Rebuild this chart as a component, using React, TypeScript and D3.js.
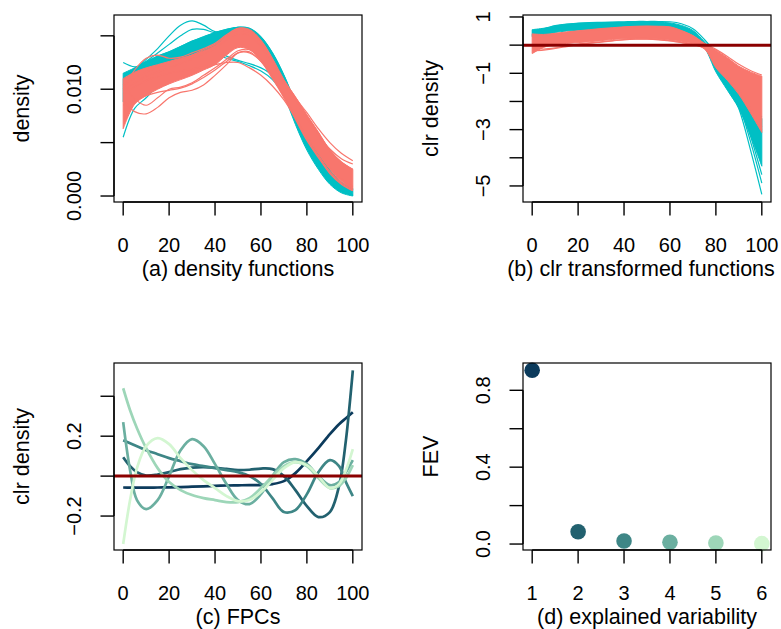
import React from "react";
import * as d3 from "d3";

// ---- data ----
const tGrid = [0, 5, 10, 15, 20, 25, 30, 35, 40, 45, 50, 55, 60, 65, 70, 75, 80, 85, 90, 95, 100];

// (a) density functions: band envelopes + curves that leave the band
const densCyanLow = [0.0088, 0.0098, 0.0105, 0.0114, 0.012, 0.0125, 0.013, 0.0135, 0.014, 0.0145, 0.0148, 0.0146, 0.0136, 0.012, 0.0095, 0.0067, 0.0043, 0.0025, 0.0011, 0.0003, 0.0];
const densCyanHigh = [0.0115, 0.012, 0.0126, 0.0131, 0.0135, 0.014, 0.0145, 0.0149, 0.0153, 0.0156, 0.0158, 0.0157, 0.0149, 0.0134, 0.0113, 0.0087, 0.0061, 0.004, 0.0024, 0.0013, 0.0007];
const densSalmonLow = [0.0063, 0.0086, 0.0094, 0.01, 0.0105, 0.0109, 0.0113, 0.0118, 0.0123, 0.0132, 0.0139, 0.0137, 0.0127, 0.0111, 0.0093, 0.0074, 0.0055, 0.004, 0.0025, 0.0014, 0.0006];
const densSalmonHigh = [0.011, 0.0116, 0.012, 0.0123, 0.0126, 0.0129, 0.0132, 0.0136, 0.0141, 0.015, 0.0157, 0.0156, 0.0146, 0.0129, 0.0109, 0.0093, 0.0076, 0.006, 0.0043, 0.0032, 0.0025];
const densCyanCurves = [
  [0.011, 0.0118, 0.0128, 0.0138, 0.015, 0.016, 0.0164, 0.016, 0.0154, 0.0155, 0.0157, 0.0156, 0.0148, 0.0133, 0.0112, 0.0086, 0.006, 0.0039, 0.0023, 0.0012, 0.0006],
  [0.0112, 0.0119, 0.0126, 0.0134, 0.0142, 0.015, 0.0156, 0.0156, 0.0153, 0.0155, 0.0158, 0.0156, 0.0148, 0.0132, 0.011, 0.0084, 0.0058, 0.0037, 0.0021, 0.001, 0.0004],
  [0.0125, 0.0121, 0.0124, 0.0131, 0.0135, 0.014, 0.0145, 0.0149, 0.0153, 0.0156, 0.0158, 0.0157, 0.0149, 0.0134, 0.0113, 0.0087, 0.0061, 0.004, 0.0024, 0.0013, 0.0007],
  [0.0055, 0.0082, 0.0092, 0.0104, 0.0116, 0.0124, 0.013, 0.0135, 0.014, 0.0145, 0.0148, 0.0146, 0.0136, 0.012, 0.0096, 0.007, 0.0046, 0.0028, 0.0013, 0.0005, 0.0001],
  [0.01, 0.0108, 0.0116, 0.0124, 0.013, 0.0133, 0.0134, 0.0135, 0.0133, 0.0129, 0.0126, 0.0122, 0.0117, 0.0109, 0.0094, 0.0071, 0.0047, 0.0029, 0.0014, 0.0006, 0.0001],
  [0.0095, 0.0103, 0.0112, 0.012, 0.0127, 0.0131, 0.0135, 0.0138, 0.0138, 0.0131, 0.0127, 0.0124, 0.012, 0.0113, 0.0096, 0.0072, 0.0048, 0.003, 0.0015, 0.0006, 0.0001],
];
const densSalmonCurves = [
  [0.009, 0.0079, 0.0077, 0.0083, 0.0092, 0.0097, 0.0099, 0.0104, 0.0113, 0.0123, 0.0134, 0.0135, 0.0126, 0.0111, 0.0093, 0.0073, 0.0053, 0.0037, 0.0022, 0.0012, 0.0005],
  [0.0105, 0.0091, 0.0085, 0.0092, 0.01, 0.0102, 0.0106, 0.0113, 0.012, 0.0128, 0.0136, 0.0137, 0.0128, 0.0112, 0.0094, 0.0074, 0.0054, 0.0038, 0.0023, 0.0013, 0.0006],
  [0.01, 0.0118, 0.0129, 0.0132, 0.0129, 0.013, 0.0134, 0.0138, 0.0143, 0.0151, 0.0157, 0.0155, 0.0145, 0.0128, 0.0108, 0.0092, 0.0075, 0.0059, 0.0043, 0.0032, 0.0025],
  [0.0095, 0.0102, 0.0108, 0.0112, 0.0115, 0.0117, 0.0119, 0.0121, 0.0123, 0.0125, 0.0125, 0.012, 0.0113, 0.0103, 0.009, 0.0073, 0.0055, 0.004, 0.0026, 0.0016, 0.0009],
  [0.0102, 0.011, 0.0116, 0.012, 0.0124, 0.0128, 0.0132, 0.0137, 0.0142, 0.015, 0.0155, 0.0153, 0.0143, 0.0125, 0.0107, 0.0092, 0.0078, 0.0063, 0.005, 0.004, 0.0033],
  [0.0098, 0.0106, 0.0112, 0.0116, 0.012, 0.0124, 0.0128, 0.0133, 0.0138, 0.0146, 0.0152, 0.015, 0.014, 0.0122, 0.0105, 0.009, 0.0073, 0.0057, 0.0044, 0.0035, 0.003],
  [0.0085, 0.009, 0.0094, 0.0097, 0.0099, 0.0101, 0.0105, 0.0111, 0.0118, 0.0126, 0.0134, 0.0134, 0.0126, 0.011, 0.0092, 0.0072, 0.0052, 0.0036, 0.0021, 0.0011, 0.0005],
];

// (b) clr transformed functions
const clrCyanLow = [0.3, 0.36, 0.45, 0.5, 0.53, 0.55, 0.57, 0.58, 0.59, 0.6, 0.6, 0.58, 0.55, 0.42, 0.2, -0.1, -0.95, -1.6, -2.25, -3.2, -4.3];
const clrCyanHigh = [0.55, 0.6, 0.68, 0.74, 0.77, 0.79, 0.8, 0.81, 0.81, 0.82, 0.82, 0.81, 0.79, 0.7, 0.52, 0.12, -0.38, -0.95, -1.55, -2.2, -2.6];
const clrSalmonLow = [-0.3, -0.08, 0.02, 0.06, 0.09, 0.12, 0.16, 0.2, 0.23, 0.24, 0.24, 0.22, 0.18, 0.12, 0.05, -0.12, -0.8, -1.25, -1.75, -2.4, -3.1];
const clrSalmonHigh = [0.4, 0.38, 0.42, 0.47, 0.51, 0.55, 0.59, 0.62, 0.65, 0.67, 0.68, 0.67, 0.65, 0.52, 0.34, 0.05, -0.18, -0.45, -0.75, -0.95, -1.1];
const clrCyanCurves = [
  [0.45, 0.5, 0.62, 0.7, 0.74, 0.76, 0.77, 0.78, 0.79, 0.8, 0.8, 0.78, 0.74, 0.62, 0.4, 0.02, -0.55, -1.25, -2.1, -3.4, -4.9],
  [0.42, 0.48, 0.6, 0.68, 0.72, 0.74, 0.76, 0.77, 0.78, 0.79, 0.79, 0.77, 0.73, 0.6, 0.38, 0.0, -0.6, -1.35, -2.25, -3.7, -5.3],
  [0.48, 0.52, 0.64, 0.71, 0.75, 0.77, 0.78, 0.79, 0.8, 0.81, 0.81, 0.79, 0.75, 0.64, 0.42, 0.04, -0.5, -1.15, -1.95, -3.2, -4.6],
  [0.52, 0.58, 0.69, 0.75, 0.78, 0.8, 0.81, 0.82, 0.83, 0.84, 0.84, 0.84, 0.83, 0.76, 0.58, 0.2, -0.3, -0.85, -1.45, -2.1, -2.55],
];
const clrSalmonCurves = [
  [-0.2, -0.18, -0.12, -0.05, 0.02, 0.07, 0.11, 0.15, 0.19, 0.21, 0.21, 0.19, 0.15, 0.09, 0.02, -0.12, -0.68, -1.1, -1.6, -2.2, -2.9],
  [-0.1, -0.14, -0.1, -0.02, 0.04, 0.08, 0.12, 0.16, 0.2, 0.22, 0.22, 0.2, 0.16, 0.1, 0.03, -0.12, -0.7, -1.15, -1.65, -2.3, -3.0],
  [0.3, 0.32, 0.38, 0.44, 0.48, 0.52, 0.56, 0.6, 0.63, 0.65, 0.66, 0.65, 0.62, 0.5, 0.32, 0.06, -0.15, -0.4, -0.68, -0.9, -1.06],
];

// (c) FPCs
const fpcGrid = [0, 3, 6, 10, 15, 20, 25, 30, 35, 40, 45, 50, 55, 60, 65, 70, 75, 80, 85, 90, 94, 97, 100];
const fpc1 = [-0.057, -0.058, -0.058, -0.058, -0.057, -0.056, -0.055, -0.053, -0.051, -0.049, -0.047, -0.046, -0.045, -0.045, -0.04, -0.025, 0.015, 0.075, 0.14, 0.21, 0.26, 0.29, 0.32];
const fpc2 = [0.095, 0.05, 0.02, 0.003, 0.008, 0.02, 0.035, 0.043, 0.045, 0.042, 0.036, 0.03, 0.032, 0.038, 0.035, 0.0, -0.07, -0.15, -0.205, -0.18, -0.05, 0.18, 0.53];
const fpc3 = [0.18, 0.165, 0.15, 0.13, 0.11, 0.09, 0.075, 0.06, 0.05, 0.04, 0.03, 0.02, 0.0, -0.04, -0.11, -0.18, -0.17, -0.09, 0.02, 0.08, 0.05, -0.03, -0.1];
const fpc4 = [0.27, 0.03, -0.12, -0.165, -0.12, 0.0, 0.13, 0.185, 0.15, 0.06, -0.04, -0.12, -0.14, -0.09, 0.0, 0.07, 0.085, 0.06, 0.0, -0.045, -0.03, 0.02, 0.08];
const fpc5 = [0.44, 0.33, 0.24, 0.14, 0.04, -0.03, -0.07, -0.095, -0.11, -0.12, -0.13, -0.13, -0.11, -0.06, 0.0, 0.05, 0.07, 0.05, -0.01, -0.06, -0.05, -0.01, 0.055];
const fpc6 = [-0.34, -0.12, 0.04, 0.15, 0.19, 0.16, 0.09, 0.03, -0.02, -0.06, -0.1, -0.125, -0.12, -0.08, -0.02, 0.04, 0.07, 0.055, 0.0, -0.06, -0.04, 0.03, 0.135];
const fpcCurves = [fpc1, fpc2, fpc3, fpc4, fpc5, fpc6];

// (d) explained variability
const fevIndex = [1, 2, 3, 4, 5, 6];
const fevValues = [0.904, 0.064, 0.016, 0.009, 0.005, 0.002];

const fpcColors = ["#0C3B5C", "#22616F", "#3E8686", "#6BAFA0", "#9DD6B8", "#D3F6D1"];

const xTicks100 = [0, 20, 40, 60, 80, 100];
const densTicks = [0, 0.005, 0.01, 0.015];
const densTickLabels = ["0.000", "", "0.010", ""];
const clrTicks = [-5, -4, -3, -2, -1, 0, 1];
const clrTickLabels = ["\u22125", "", "\u22123", "", "\u22121", "", "1"];
const fpcTicks = [-0.2, 0, 0.2, 0.4];
const fpcTickLabels = ["\u22120.2", "", "0.2", ""];
const fevTicks = [0, 0.2, 0.4, 0.6, 0.8];
const fevTickLabels = ["0.0", "", "0.4", "", "0.8"];

const CYAN = "#00BFC4";
const SALMON = "#F8766D";
const DARKRED = "#8B0000";
const FONT = "'Liberation Sans', Arial, Helvetica, sans-serif";
const FS_LAB = 21.5;
const FS_TICK = 20;
const TICK = 13.5;

type Box = { x0: number; x1: number; y0: number; y1: number };

function Frame({ box, x, y, xTicks, xLabels, yTicks, yLabels, xlab, ylab, xlabShift = 0 }: any) {
  const b: Box = box;
  return (
    <g>
      <rect x={b.x0} y={b.y0} width={b.x1 - b.x0} height={b.y1 - b.y0} fill="none" stroke="#000" strokeWidth={1.2} />
      <line x1={x(xTicks[0])} x2={x(xTicks[xTicks.length - 1])} y1={b.y1} y2={b.y1} stroke="#000" strokeWidth={1.4} />
      {xTicks.map((t: number, i: number) => (
        <g key={"x" + i}>
          <line x1={x(t)} x2={x(t)} y1={b.y1} y2={b.y1 + TICK} stroke="#000" strokeWidth={1.4} />
          <text x={x(t)} y={b.y1 + 49.5} textAnchor="middle" fontSize={FS_TICK} fontFamily={FONT} fill="#000">
            {xLabels[i]}
          </text>
        </g>
      ))}
      <line y1={y(yTicks[0])} y2={y(yTicks[yTicks.length - 1])} x1={b.x0} x2={b.x0} stroke="#000" strokeWidth={1.4} />
      {yTicks.map((t: number, i: number) => (
        <g key={"y" + i}>
          <line y1={y(t)} y2={y(t)} x1={b.x0} x2={b.x0 - TICK} stroke="#000" strokeWidth={1.4} />
          <text
            transform={`translate(${b.x0 - 33},${y(t)}) rotate(-90)`}
            textAnchor="middle"
            fontSize={FS_TICK}
            fontFamily={FONT}
            fill="#000"
          >
            {yLabels[i]}
          </text>
        </g>
      ))}
      <text
        x={(b.x0 + b.x1) / 2 + xlabShift}
        y={b.y1 + 73.5}
        textAnchor="middle"
        fontSize={FS_LAB}
        fontFamily={FONT}
        fill="#000"
      >
        {xlab}
      </text>
      <text
        transform={`translate(${b.x0 - 85},${(b.y0 + b.y1) / 2}) rotate(-90)`}
        textAnchor="middle"
        fontSize={FS_LAB}
        fontFamily={FONT}
        fill="#000"
      >
        {ylab}
      </text>
    </g>
  );
}

function BandPanel({ box, yDomain, cyanLow, cyanHigh, salmonLow, salmonHigh, cyanCurves, salmonCurves, refLine, ...rest }: any) {
  const x = d3.scaleLinear().domain([-4, 104]).range([box.x0, box.x1]);
  const y = d3.scaleLinear().domain(yDomain).range([box.y1, box.y0]);
  const area = d3
    .area<number>()
    .x((_, i) => x(tGrid[i]))
    .y0((d) => y(d))
    .curve(d3.curveCatmullRom);
  const bandPath = (lo: number[], hi: number[]) =>
    area.y1((_, i) => y(hi[i]))(lo) as string;
  const line = d3
    .line<number>()
    .x((_, i) => x(tGrid[i]))
    .y((d) => y(d))
    .curve(d3.curveCatmullRom);
  return (
    <g>
      <path d={bandPath(cyanLow, cyanHigh)} fill={CYAN} stroke={CYAN} strokeWidth={1} />
      {cyanCurves.map((c: number[], i: number) => (
        <path key={"c" + i} d={line(c) as string} fill="none" stroke={CYAN} strokeWidth={1.2} />
      ))}
      <path d={bandPath(salmonLow, salmonHigh)} fill={SALMON} stroke={SALMON} strokeWidth={1} />
      {salmonCurves.map((c: number[], i: number) => (
        <path key={"s" + i} d={line(c) as string} fill="none" stroke={SALMON} strokeWidth={1.2} />
      ))}
      {refLine && <line x1={box.x0} x2={box.x1} y1={y(0)} y2={y(0)} stroke={DARKRED} strokeWidth={3} />}
      <Frame box={box} x={x} y={y} {...rest} />
    </g>
  );
}

function FpcPanel({ box }: { box: Box }) {
  const x = d3.scaleLinear().domain([-4, 104]).range([box.x0, box.x1]);
  const y = d3.scaleLinear().domain([-0.37, 0.5665]).range([box.y1, box.y0]);
  const line = d3
    .line<number>()
    .x((_, i) => x(fpcGrid[i]))
    .y((d) => y(d))
    .curve(d3.curveCatmullRom);
  return (
    <g>
      {fpcCurves.map((c, i) => (
        <path key={i} d={line(c) as string} fill="none" stroke={fpcColors[i]} strokeWidth={2.7} />
      ))}
      <line x1={box.x0} x2={box.x1} y1={y(0)} y2={y(0)} stroke={DARKRED} strokeWidth={3} />
      <Frame
        box={box}
        x={x}
        y={y}
        xTicks={xTicks100}
        xLabels={xTicks100.map(String)}
        yTicks={fpcTicks}
        yLabels={fpcTickLabels}
        xlab="(c) FPCs"
        ylab="clr density"
      />
    </g>
  );
}

function FevPanel({ box }: { box: Box }) {
  const x = d3.scaleLinear().domain([0.8, 6.2]).range([box.x0, box.x1]);
  const y = d3.scaleLinear().domain([-0.031, 0.942]).range([box.y1, box.y0]);
  return (
    <g>
      {fevValues.map((v, i) => (
        <circle key={i} cx={x(fevIndex[i])} cy={y(v)} r={7.8} fill={fpcColors[i]} />
      ))}
      <Frame
        box={box}
        x={x}
        y={y}
        xTicks={fevIndex}
        xLabels={fevIndex.map(String)}
        yTicks={fevTicks}
        yLabels={fevTickLabels}
        xlab="(d) explained variability"
        ylab="FEV"
      />
    </g>
  );
}

export default function App() {
  const boxA: Box = { x0: 114, x1: 362, y0: 15, y1: 202 };
  const boxB: Box = { x0: 523, x1: 771, y0: 15, y1: 202 };
  const boxC: Box = { x0: 114, x1: 362, y0: 363, y1: 550 };
  const boxD: Box = { x0: 523, x1: 771, y0: 363, y1: 550 };
  return (
    <svg
      width={781}
      height={629}
      style={{ position: "absolute", left: 0, top: 0, background: "#fff" }}
    >
      <rect width={781} height={629} fill="#fff" />
      <BandPanel
        box={boxA}
        yDomain={[-0.00056, 0.01695]}
        cyanLow={densCyanLow}
        cyanHigh={densCyanHigh}
        salmonLow={densSalmonLow}
        salmonHigh={densSalmonHigh}
        cyanCurves={densCyanCurves}
        salmonCurves={densSalmonCurves}
        refLine={false}
        xTicks={xTicks100}
        xLabels={xTicks100.map(String)}
        yTicks={densTicks}
        yLabels={densTickLabels}
        xlab="(a) density functions"
        ylab="density"
      />
      <BandPanel
        box={boxB}
        yDomain={[-5.57, 1.07]}
        cyanLow={clrCyanLow}
        cyanHigh={clrCyanHigh}
        salmonLow={clrSalmonLow}
        salmonHigh={clrSalmonHigh}
        cyanCurves={clrCyanCurves}
        salmonCurves={clrSalmonCurves}
        refLine={true}
        xTicks={xTicks100}
        xLabels={xTicks100.map(String)}
        yTicks={clrTicks}
        yLabels={clrTickLabels}
        xlab="(b) clr transformed functions"
        xlabShift={-6}
        ylab="clr density"
      />
      <FpcPanel box={boxC} />
      <FevPanel box={boxD} />
    </svg>
  );
}
